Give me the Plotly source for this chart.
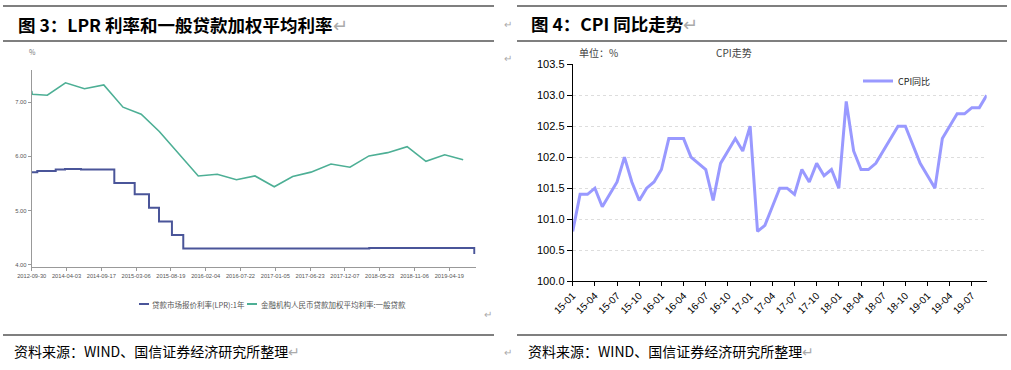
import plotly.graph_objects as go

W, H = 1011, 370

# ---------------- Data ----------------
# Left chart: x positions expressed in units of the (equally spaced) date-tick labels
left_tick_labels = ["2012-09-30", "2014-04-03", "2014-09-17", "2015-03-06", "2015-08-19",
                    "2016-02-04", "2016-07-22", "2017-01-05", "2017-06-23", "2017-12-07",
                    "2018-05-23", "2018-11-06", "2019-04-19"]

lpr_pos = [0.0, 0.16, 0.69, 0.957, 1.417, 2.374, 2.96, 3.371, 3.658, 4.03, 4.356, 9.70, 12.72]
lpr_val = [5.71, 5.73, 5.76, 5.77, 5.76, 5.51, 5.30, 5.05, 4.80, 4.55, 4.30, 4.31, 4.20]

loan_pos = [0.0, 0.015, 0.448, 0.971, 1.517, 2.072, 2.624, 3.147, 3.667, 4.227, 4.787, 5.333,
            5.885, 6.417, 6.971, 7.5, 8.026, 8.6, 9.147, 9.692, 10.23, 10.79, 11.33, 11.87, 12.40]
loan_val = [7.21, 7.15, 7.13, 7.36, 7.25, 7.32, 6.91, 6.78, 6.46, 6.05, 5.64, 5.67,
            5.57, 5.64, 5.44, 5.63, 5.71, 5.86, 5.80, 6.01, 6.07, 6.18, 5.91, 6.03, 5.94]

lpr_name = "贷款市场报价利率(LPR):1年"
loan_name = "金融机构人民币贷款加权平均利率:一般贷款"

# Right chart: CPI (same month last year = 100)
cpi_months = [f"{y:02d}-{m:02d}" for y in range(15, 20) for m in range(1, 13)][:57]
cpi_val = [100.8, 101.4, 101.4, 101.5, 101.2, 101.4, 101.6, 102.0, 101.6, 101.3, 101.5, 101.6,
           101.8, 102.3, 102.3, 102.3, 102.0, 101.9, 101.8, 101.3, 101.9, 102.1, 102.3, 102.1,
           102.5, 100.8, 100.9, 101.2, 101.5, 101.5, 101.4, 101.8, 101.6, 101.9, 101.7, 101.8,
           101.5, 102.9, 102.1, 101.8, 101.8, 101.9, 102.1, 102.3, 102.5, 102.5, 102.2, 101.9,
           101.7, 101.5, 102.3, 102.5, 102.7, 102.7, 102.8, 102.8, 103.0]
cpi_name = "CPI同比"
right_ticks = cpi_months[::3]

# ---------------- Styles ----------------
NAVY = "#4A5599"
GREEN = "#4DAF95"
CPI_COLOR = "#9999FF"
CJK = "Noto Sans CJK SC"
NARROW = "Liberation Sans Narrow, Arial Narrow, Liberation Sans, sans-serif"
ARIAL = "Liberation Sans, Arial, sans-serif"


def px(x):
    return x / W


def py(y):
    return 1 - y / H


fig = go.Figure()

fig.add_trace(go.Scatter(x=lpr_pos, y=lpr_val, mode="lines", line=dict(color=NAVY, width=2, shape="hv"),
                         name=lpr_name, showlegend=False, xaxis="x", yaxis="y"))
fig.add_trace(go.Scatter(x=loan_pos, y=loan_val, mode="lines", line=dict(color=GREEN, width=1.6),
                         name=loan_name, showlegend=False, xaxis="x", yaxis="y"))
fig.add_trace(go.Scatter(x=cpi_months, y=cpi_val, mode="lines", line=dict(color=CPI_COLOR, width=3),
                         name=cpi_name, showlegend=True, xaxis="x2", yaxis="y2"))

fig.update_layout(
    template="none",
    width=W, height=H, margin=dict(l=0, r=0, t=0, b=0, pad=0), autosize=False,
    paper_bgcolor="white", plot_bgcolor="white",
    showlegend=True,
    legend=dict(x=px(858), y=py(81), xanchor="left", yanchor="middle", bgcolor="rgba(0,0,0,0)",
                font=dict(family=CJK, size=9, color="#222"), itemwidth=30, tracegroupgap=0),
    xaxis=dict(domain=[px(31.7), px(475.7)], range=[0, 12.76], tickmode="array",
               tickvals=list(range(len(left_tick_labels))), ticktext=left_tick_labels,
               showline=True, linecolor="#999", linewidth=1, ticks="outside", ticklen=3,
               tickcolor="#999", tickfont=dict(family=NARROW, size=5.7, color="#555"),
               showgrid=False, zeroline=False, tickangle=0, anchor="y", automargin=False),
    yaxis=dict(domain=[py(267.3), py(70)], range=[3.952, 7.597], tickvals=[4, 5, 6, 7],
               tickformat=".2f", showline=True, linecolor="#999", linewidth=1, ticks="outside",
               ticklen=3, tickcolor="#999", tickfont=dict(family=NARROW, size=5.8, color="#555"),
               showgrid=False, zeroline=False, anchor="x", automargin=False),
    xaxis2=dict(domain=[px(572.7), px(986.7)], range=[0, 56], type="category",
                categoryorder="array", categoryarray=cpi_months, tickmode="array",
                tickvals=right_ticks, ticktext=right_ticks, tickangle=-45,
                showline=True, linecolor="black", linewidth=1, ticks="outside", ticklen=4,
                tickcolor="black", tickfont=dict(family=ARIAL, size=10, color="black"),
                showgrid=False, zeroline=False, anchor="y2", automargin=False),
    yaxis2=dict(domain=[py(281), py(64.3)], range=[100, 103.5], dtick=0.5, tickformat=".1f",
                showline=True, linecolor="black", linewidth=1, ticks="outside", ticklen=5,
                tickcolor="black", tickfont=dict(family=ARIAL, size=11, color="black"),
                showgrid=True, gridcolor="#DDDDDD", griddash="dot", gridwidth=1,
                zeroline=False, anchor="x2", automargin=False),
)

shapes = []
# header/footer rules
for (x0, x1) in [(3, 494), (517, 1007)]:
    for yy in [6, 41, 335]:
        shapes.append(dict(type="line", xref="paper", yref="paper", x0=px(x0), x1=px(x1),
                           y0=py(yy), y1=py(yy), line=dict(color="black", width=1.2)))
# left manual legend swatches
shapes.append(dict(type="line", xref="paper", yref="paper", x0=px(139), x1=px(149), y0=py(304),
                   y1=py(304), line=dict(color=NAVY, width=2)))
shapes.append(dict(type="line", xref="paper", yref="paper", x0=px(247), x1=px(257), y0=py(304),
                   y1=py(304), line=dict(color=GREEN, width=2)))
fig.update_layout(shapes=shapes)

RET = "<span style='color:#AAAAAA;font-weight:normal'>↵</span>"
ann = []


def text(x, y, s, size, color="black", family=CJK, anchor="left"):
    ann.append(dict(x=px(x), y=py(y), xref="paper", yref="paper", text=s, showarrow=False,
                    xanchor=anchor, yanchor="middle", font=dict(size=size, color=color, family=family)))


text(16, 24, "<b>图 3：LPR 利率和一般贷款加权平均利率</b>" + RET, 17.5)
text(529, 23, "<b>图 4：CPI 同比走势</b>" + RET, 17.5)
text(502, 23, "↵", 10, "#AAAAAA")
text(502, 58, "↵", 10, "#AAAAAA")
text(482, 313, "↵", 10, "#AAAAAA")
text(502, 351, "↵", 10, "#AAAAAA")
text(27, 52, "%", 7, "#777")
text(577, 53, "单位：%", 10, "#444")
text(714, 53, "CPI走势", 10, "#444")
text(150, 304, lpr_name, 7.5, "#555")
text(259, 304, loan_name, 7.5, "#555")
text(12, 351, "资料来源：WIND、国信证券经济研究所整理" + RET, 14)
text(526, 351, "资料来源：WIND、国信证券经济研究所整理" + RET, 14)
fig.update_layout(annotations=ann)

fig.write_html("out.html", config={"displayModeBar": False},
               post_script="document.body.style.margin='0';document.body.style.overflow='hidden';")
